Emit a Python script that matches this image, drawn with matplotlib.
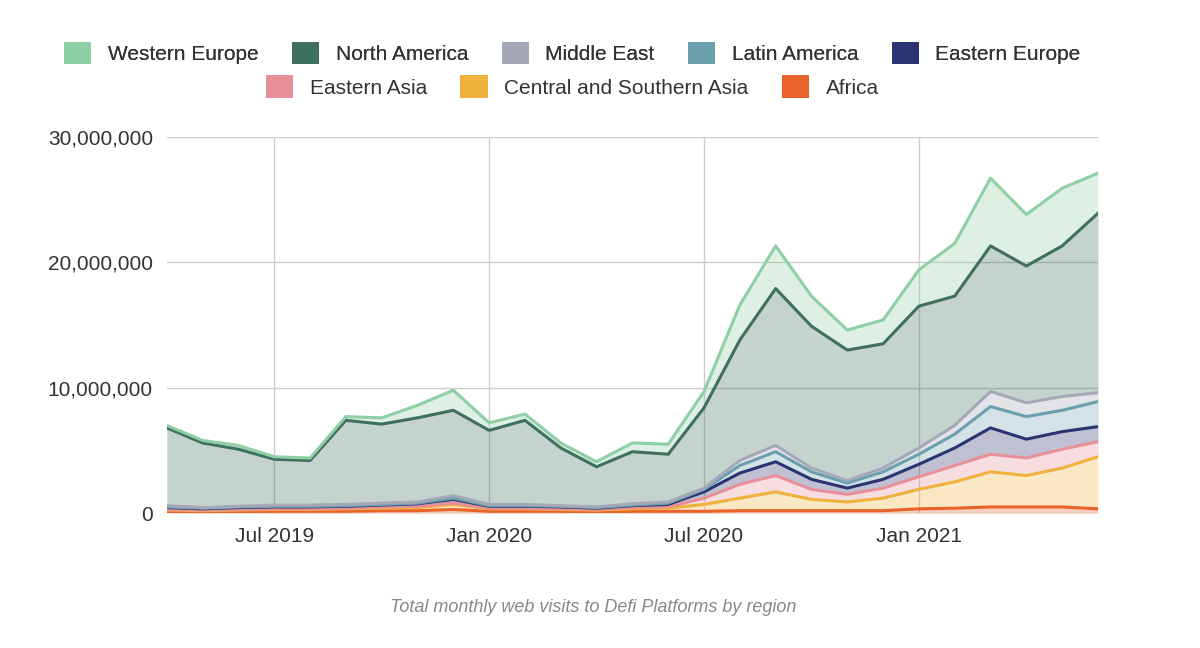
import matplotlib
matplotlib.use("Agg")
import matplotlib.pyplot as plt
from matplotlib.patches import Patch
import numpy as np

plt.rcParams['font.family'] = ['Liberation Sans', 'DejaVu Sans']

# monthly values, Apr 2019 .. Jun 2021 (millions of visits), stack order bottom -> top
months = ['2019-04', '2019-05', '2019-06', '2019-07', '2019-08', '2019-09', '2019-10', '2019-11', '2019-12',
          '2020-01', '2020-02', '2020-03', '2020-04', '2020-05', '2020-06', '2020-07', '2020-08', '2020-09',
          '2020-10', '2020-11', '2020-12', '2021-01', '2021-02', '2021-03', '2021-04', '2021-05', '2021-06']
africa = [.1, .1, .1, .15, .15, .15, .2, .2, .3, .15, .15, .15, .1, .15, .15, .15, .2, .2, .2, .2, .2, .35, .4, .5, .5, .5, .35]
central_s_asia = [.15, .1, .15, .15, .15, .2, .2, .25, .4, .2, .2, .15, .15, .2, .25, .55, 1.0, 1.5, .9, .7, 1.0, 1.55, 2.1, 2.8, 2.5, 3.1, 4.15]
eastern_asia = [.05, .05, .05, .05, .05, .05, .1, .1, .1, .05, .05, .05, .05, .1, .1, .5, 1.1, 1.3, .8, .6, .8, 1.0, 1.3, 1.4, 1.4, 1.5, 1.2]
eastern_europe = [.15, .1, .15, .15, .15, .15, .15, .2, .3, .15, .15, .15, .1, .15, .2, .5, .9, 1.1, .8, .5, .7, 1.0, 1.4, 2.1, 1.5, 1.4, 1.2]
latin_america = [.05, .05, .05, .05, .05, .05, .05, .05, .1, .05, .05, .05, .05, .05, .1, .2, .6, .8, .6, .4, .6, .8, 1.1, 1.7, 1.8, 1.7, 2.0]
middle_east = [.1, .05, .05, .1, .1, .1, .1, .1, .2, .1, .1, .05, .05, .1, .1, .1, .4, .5, .3, .2, .3, .5, .7, 1.2, 1.1, 1.1, .7]
north_america = [6.2, 5.15, 4.55, 3.65, 3.55, 6.7, 6.3, 6.7, 6.8, 5.9, 6.7, 4.6, 3.2, 4.15, 3.8, 6.4, 9.6, 12.5, 11.3, 10.4, 9.9, 11.3, 10.3, 11.6, 10.9, 12.0, 14.3]
western_europe = [.2, .2, .3, .2, .2, .3, .5, 1.0, 1.6, .6, .5, .4, .4, .7, .8, 1.3, 2.8, 3.4, 2.4, 1.6, 1.9, 2.9, 4.2, 5.4, 4.1, 4.6, 3.2]

names = ['Africa', 'Central and Southern Asia', 'Eastern Asia', 'Eastern Europe',
         'Latin America', 'Middle East', 'North America', 'Western Europe']
series = [africa, central_s_asia, eastern_asia, eastern_europe, latin_america, middle_east, north_america, western_europe]
cols = ['#e8622a', '#f0b23c', '#e8909a', '#2b3470', '#6a9fae', '#a5a8b6', '#3f6f5f', '#8fcfa5']

x = np.arange(len(months))
vals = np.array(series) * 1e6
cum = np.cumsum(vals, axis=0)

fig = plt.figure(figsize=(12, 6.48), dpi=100)
ax = fig.add_axes([0.139, 0.208, 0.776, 0.581])
base = np.zeros(len(x))
for i, c in enumerate(cols):
    ax.fill_between(x, base, cum[i], color=c, alpha=0.3, lw=0, zorder=2)
    base = cum[i]
for i, c in enumerate(cols):
    ax.plot(x, cum[i], color=c, lw=2.2, zorder=3)

ax.set_xlim(0, len(x) - 1)
ax.set_ylim(0, 30e6)
ax.set_yticks([0, 10e6, 20e6, 30e6])
ax.set_yticklabels(['0', '10,000,000', '20,000,000', '30,000,000'])
tick_pos = [months.index(m) for m in ['2019-07', '2020-01', '2020-07', '2021-01']]
ax.set_xticks(tick_pos)
ax.set_xticklabels(['Jul 2019', 'Jan 2020', 'Jul 2020', 'Jan 2021'])
ax.grid(True, color='#cccccc', lw=1, zorder=0)
for s in ax.spines.values():
    s.set_visible(False)
ax.tick_params(length=0, labelsize=15, colors='#333333', pad=10)

# legend in reference order, two rows
order = [7, 6, 5, 4, 3]
order2 = [2, 1, 0]
h1 = [Patch(facecolor=cols[i], edgecolor='none') for i in order]
h2 = [Patch(facecolor=cols[i], edgecolor='none') for i in order2]
leg1 = fig.legend(h1, [names[i] for i in order], loc='center', bbox_to_anchor=(0.477, 0.918), ncol=5,
                  frameon=False, fontsize=15, handlelength=1.3, handleheight=1.3, columnspacing=1.6, handletextpad=0.8,
                  labelcolor='#333333')
fig.add_artist(leg1)
fig.legend(h2, [names[i] for i in order2], loc='center', bbox_to_anchor=(0.477, 0.866), ncol=3,
           frameon=False, fontsize=15, handlelength=1.3, handleheight=1.3, columnspacing=1.6, handletextpad=0.8,
           labelcolor='#333333')

fig.text(0.494, 0.062, 'Total monthly web visits to Defi Platforms by region', ha='center', va='center',
         style='italic', fontsize=13, color='#888888')

fig.savefig('out.png', dpi=100, facecolor='white')
